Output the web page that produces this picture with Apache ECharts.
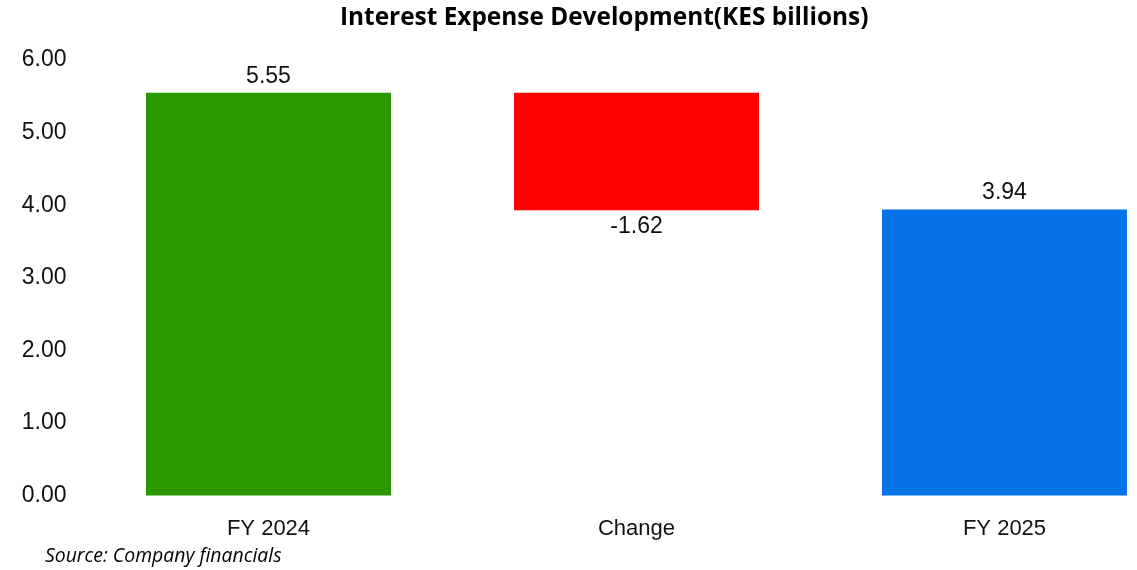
<!DOCTYPE html>
<html>
<head>
<meta charset="utf-8">
<script src="https://cdn.jsdelivr.net/npm/echarts@6/dist/echarts.min.js"></script>
<style>html,body{margin:0;padding:0;background:#fff}#c{width:1137px;height:570px}</style>
</head>
<body>
<div id="c"></div>
<script>
var categories = ['FY 2024', 'Change', 'FY 2025'];
var values = [5.55, -1.62, 3.94];
var kinds = ['total', 'delta', 'total'];
var colors = ['#2A9700', '#FF0000', '#0673E6'];
var yTicks = [0, 1, 2, 3, 4, 5, 6];

var baseData = [], barData = [];
var running = 0;
for (var i = 0; i < values.length; i++) {
  if (kinds[i] === 'total') {
    baseData.push(0);
    barData.push({ value: values[i], itemStyle: { color: colors[i] },
      label: { position: 'top' } });
    running = values[i];
  } else {
    var lo = Math.min(running, running + values[i]);
    baseData.push(lo);
    barData.push({ value: Math.abs(values[i]), itemStyle: { color: colors[i] },
      label: { position: values[i] < 0 ? 'bottom' : 'top' } });
    running = running + values[i];
  }
}

var chart = echarts.init(document.getElementById('c'));
chart.setOption({
  animation: false,
  title: {
    text: 'Interest Expense Development(KES billions)',
    left: 340, top: 6, padding: 0,
    textStyle: { fontFamily: 'Open Sans', fontWeight: 'bold', fontSize: 24.4, color: '#000' }
  },
  graphic: [{
    type: 'text', left: 45, top: 547,
    style: { text: 'Source: Company financials', font: 'italic 19.4px "Open Sans"', fill: '#000' }
  }],
  grid: { left: 84.5, width: 1104, top: 60, bottom: 74.4, outerBoundsMode: 'none' },
  xAxis: {
    type: 'category', data: categories,
    axisLine: { show: false }, axisTick: { show: false },
    axisLabel: { fontFamily: 'Liberation Sans', fontSize: 22, color: '#111', margin: 22 }
  },
  yAxis: {
    type: 'value', min: yTicks[0], max: yTicks[yTicks.length - 1], interval: 1,
    splitLine: { show: false }, axisLine: { show: false }, axisTick: { show: false },
    axisLabel: { fontFamily: 'Liberation Sans', fontSize: 23, color: '#111', margin: 18,
      formatter: function (v) { return v.toFixed(2); } }
  },
  series: [
    { type: 'bar', stack: 'w', data: baseData, barWidth: 245,
      itemStyle: { color: 'transparent' }, silent: true },
    { type: 'bar', stack: 'w', data: barData, barWidth: 245,
      label: { show: true, distance: 5, fontFamily: 'Liberation Sans', fontSize: 23, color: '#111',
        formatter: function (p) { return values[p.dataIndex].toFixed(2); } } }
  ]
});
</script>
</body>
</html>
